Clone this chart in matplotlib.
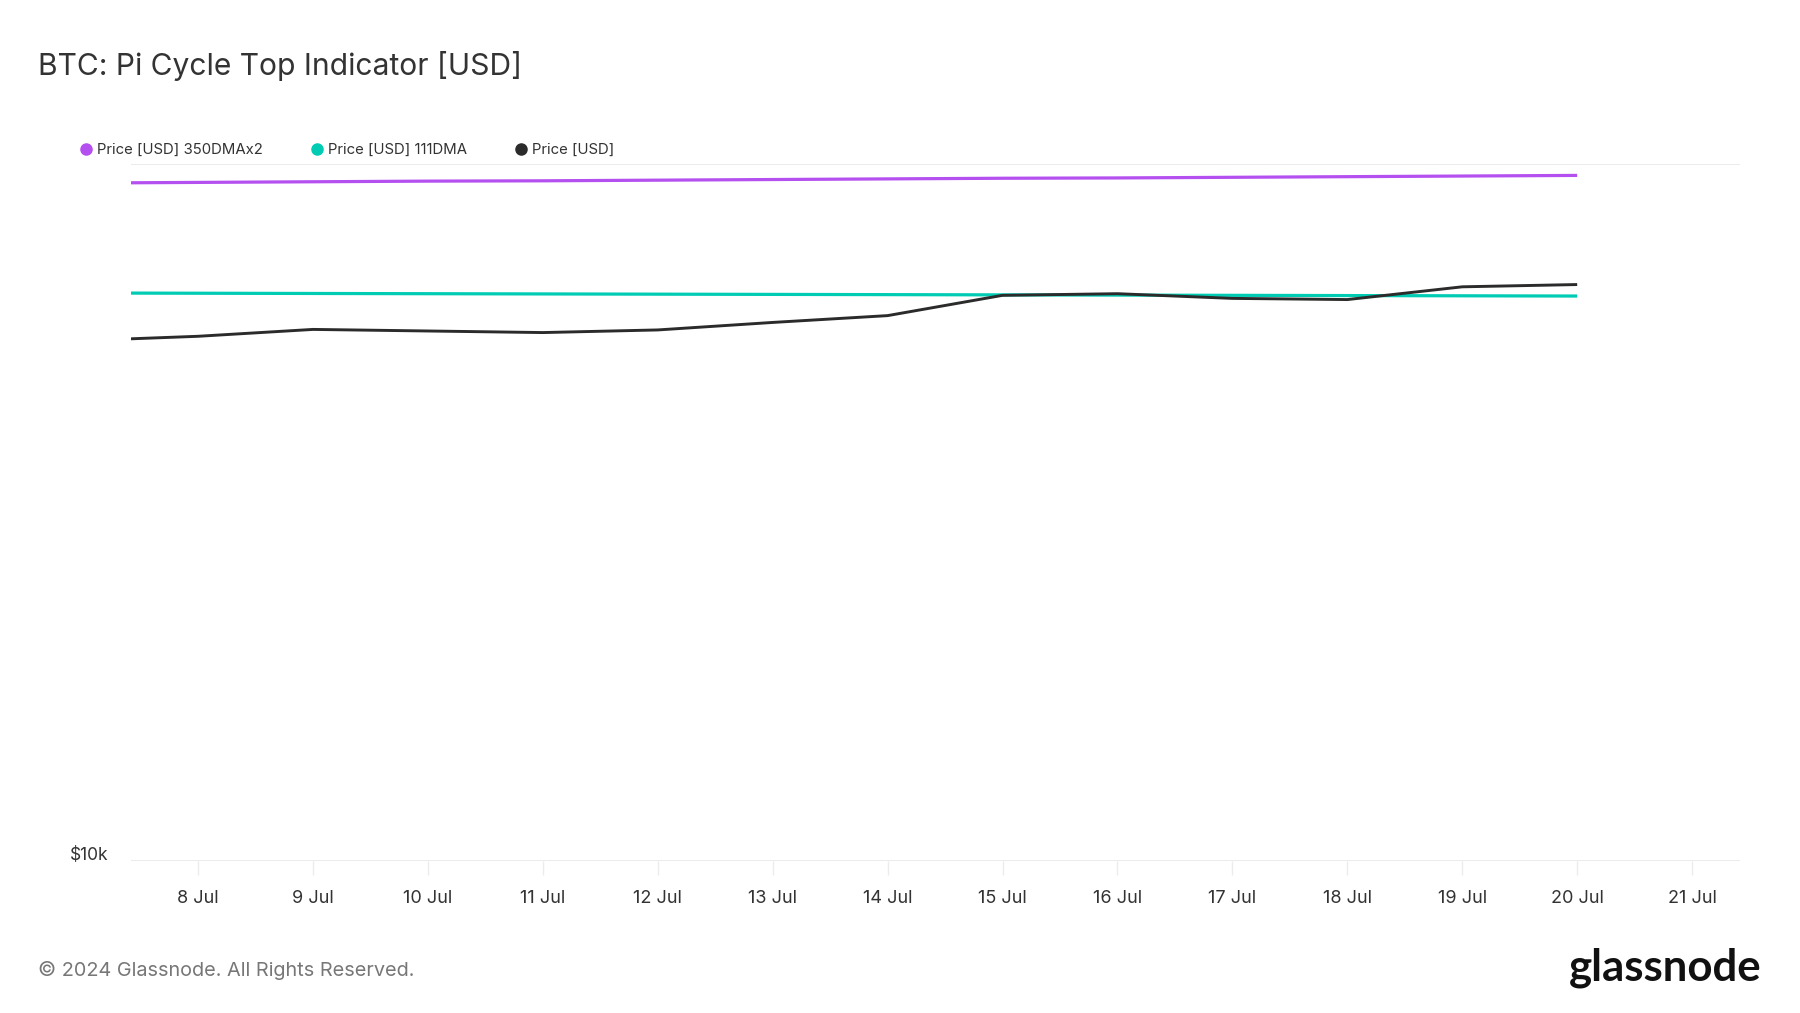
import numpy as np
import pandas as pd
import matplotlib
matplotlib.use("Agg")
import matplotlib.pyplot as plt
import matplotlib.dates as mdates
from matplotlib.lines import Line2D

plt.rcParams['font.family'] = ['Inter', 'DejaVu Sans']

# daily values, 7 Jul .. 20 Jul 2024
dates = pd.date_range("2024-07-07", "2024-07-20", freq="D")
price = [55.8, 56.6, 57.9, 57.6, 57.3, 57.8, 59.25, 60.6, 64.8, 65.15, 64.15, 63.9, 66.65, 67.15]
dma111 = [65.3, 65.25, 65.2, 65.15, 65.1, 65.05, 65.0, 64.95, 64.9, 64.85, 64.8, 64.75, 64.7, 64.65]
dma350x2 = [93.9, 94.1, 94.3, 94.5, 94.6, 94.8, 95.0, 95.2, 95.4, 95.5, 95.7, 95.9, 96.1, 96.3]

series_names = ["Price [USD] 350DMAx2", "Price [USD] 111DMA", "Price [USD]"]
colors = ["#b44ff0", "#00cbb3", "#2b2b2b"]

W, H = 1800, 1013
fig = plt.figure(figsize=(W / 100, H / 100), dpi=100)
ax = fig.add_axes([131 / W, 1 - 861 / H, (1740 - 131) / W, (861 - 164) / H])

k = 1000
ax.plot(dates, np.array(dma350x2) * k, color=colors[0], lw=2.3, solid_capstyle='butt')
ax.plot(dates, np.array(dma111) * k, color=colors[1], lw=2.3, solid_capstyle='butt')
ax.plot(dates, np.array(price) * k, color=colors[2], lw=2.1, solid_capstyle='butt')

ax.set_yscale('log')
ax.set_ylim(1e4, 1e5)
ax.set_yticks([1e4, 1e5])
ax.set_yticklabels(['', ''])
ax.yaxis.set_minor_locator(matplotlib.ticker.NullLocator())
ax.grid(axis='y', color='#e8e8e8', lw=1.2)
ax.tick_params(axis='y', length=0)
ax.annotate('$10k', (-0.014, 1e4), xycoords=ax.get_yaxis_transform(), xytext=(0, -2),
            textcoords='offset points', ha='right', va='bottom', fontsize=12.5, color='#333333')

ax.set_xlim(pd.Timestamp("2024-07-07 10:00"), pd.Timestamp("2024-07-21 10:00"))
ax.xaxis.set_major_locator(mdates.DayLocator())
ax.xaxis.set_major_formatter(mdates.DateFormatter('%-d %b'))
ax.tick_params(axis='x', length=10, width=1, color='#ececec', pad=11,
               labelsize=13, labelcolor='#333333')

for s in ax.spines.values():
    s.set_visible(False)

fig.text(38 / W, 1 - 66 / H, "BTC: Pi Cycle Top Indicator [USD]", fontsize=21.6,
         color='#333333', va='center', ha='left')

handles = [Line2D([], [], ls='none', marker='o', ms=8, color=c) for c in colors]
fig.legend(handles, series_names, loc='center left', bbox_to_anchor=(68 / W, 1 - 150 / H),
           ncol=3, frameon=False, fontsize=10.75, handlelength=0.6, handletextpad=0.45,
           columnspacing=3.3, labelcolor='#333333')

fig.text(38 / W, 1 - 970 / H, "© 2024 Glassnode. All Rights Reserved.", fontsize=14.3,
         color='#777777', va='center', ha='left')
fig.text(1762 / W, 1 - 968 / H, "glassnode", fontsize=31.5, color='#111111',
         va='center', ha='right', family=['Lato', 'DejaVu Sans'], weight='bold')

fig.savefig("out.png", dpi=100, facecolor='white')
